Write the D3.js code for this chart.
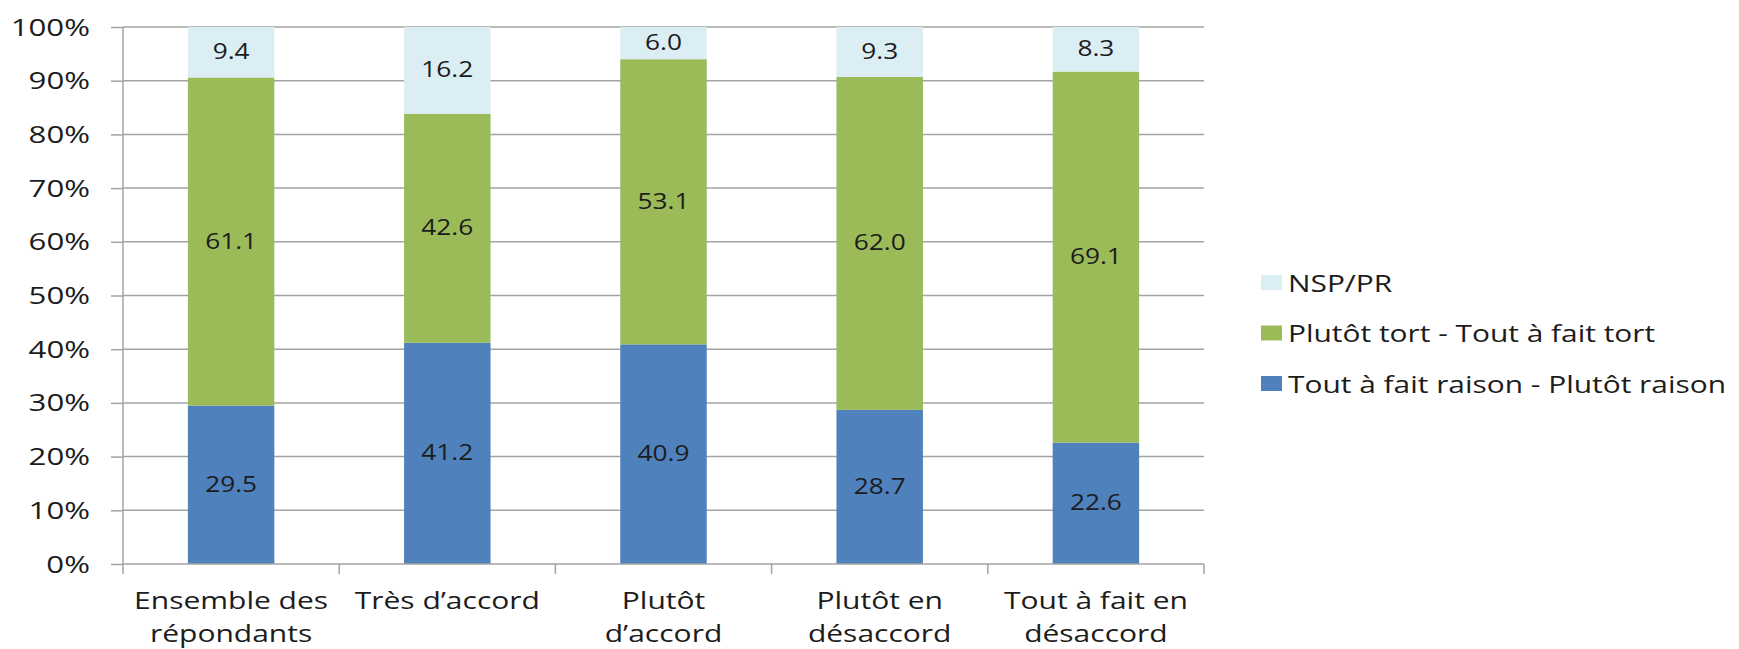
<!DOCTYPE html>
<html>
<head>
<meta charset="utf-8">
<script src="https://cdn.jsdelivr.net/npm/d3@7"></script>
<style>
    body { margin: 0; background: #fff; }
    text { font-family: "Open Sans", "Noto Sans", sans-serif; fill: #1c1c1c; }
</style>
</head>
<body>
<div id="chart"></div>
<script>
// categories, one entry per bar (lines of the axis label)
const categories = ["Ensemble des répondants", "Très d’accord", "Plutôt d’accord", "Plutôt en désaccord", "Tout à fait en désaccord"];
const categoryLines = [
    ["Ensemble des", "répondants"],
    ["Très d’accord"],
    ["Plutôt", "d’accord"],
    ["Plutôt en", "désaccord"],
    ["Tout à fait en", "désaccord"]
];

// series values (bottom to top)
const raison = [29.5, 41.2, 40.9, 28.7, 22.6];
const tort = [61.1, 42.6, 53.1, 62.0, 69.1];
const nsp = [9.4, 16.2, 6.0, 9.3, 8.3];

const seriesNames = ["Tout à fait raison - Plutôt raison", "Plutôt tort - Tout à fait tort", "NSP/PR"];
const seriesColors = ["#4f81bd", "#9bbb59", "#dbeef4"];

const yTicks = [0, 10, 20, 30, 40, 50, 60, 70, 80, 90, 100];

const chartWidth = 1739, chartHeight = 649;
const plotLeft = 123, plotRight = 1204, plotTop = 27, plotBottom = 564;

const svg = d3.select("#chart").append("svg")
    .attr("width", chartWidth)
    .attr("height", chartHeight);

const x = d3.scaleBand()
    .domain(categories)
    .range([plotLeft, plotRight])
    .paddingInner(0.6)
    .paddingOuter(0.3);

const y = d3.scaleLinear()
    .domain([0, 100])
    .range([plotBottom, plotTop]);

/*
 *  Text helper, stretched horizontally around its anchor
 *  (the glyphs in the picture are wide).
 */
function label(g, tx, ty, str, size, anchor, stretch) {
    return g.append("text")
        .attr("transform", "translate(" + tx + "," + ty + ") scale(" + stretch + ",1)")
        .attr("text-anchor", anchor)
        .attr("font-size", size)
        .text(str);
}

// gridlines
svg.append("g")
    .selectAll("line")
    .data(yTicks.slice(1))
    .join("line")
    .attr("x1", plotLeft)
    .attr("x2", plotRight)
    .attr("y1", d => y(d))
    .attr("y2", d => y(d))
    .attr("stroke", "#a3a3a3")
    .attr("stroke-width", 1.5);

// y axis
const yAxis = svg.append("g")
    .attr("transform", "translate(" + plotLeft + ",0)")
    .call(d3.axisLeft(y).tickValues(yTicks).tickSize(12).tickFormat(""));
yAxis.selectAll("path, line").attr("stroke", "#a3a3a3").attr("stroke-width", 1.5);
yAxis.select(".domain").attr("d", "M0," + plotTop + "V" + plotBottom);

yTicks.forEach(t => {
    label(svg, 90, y(t) + 8.5, t + "%", 24, "end", 1.3);
});

// stacked series
const rows = categories.map((c, i) => ({cat: c, raison: raison[i], tort: tort[i], nsp: nsp[i]}));
const stack = d3.stack().keys(["raison", "tort", "nsp"])(rows);

const layers = svg.append("g")
    .selectAll("g")
    .data(stack)
    .join("g")
    .attr("fill", (d, i) => seriesColors[i]);

layers.selectAll("rect")
    .data(d => d)
    .join("rect")
    .attr("x", d => x(d.data.cat))
    .attr("width", x.bandwidth())
    .attr("y", d => y(d[1]))
    .attr("height", d => y(d[0]) - y(d[1]));

// value labels
stack.forEach(layer => {
    layer.forEach(d => {
        let cx = x(d.data.cat) + x.bandwidth() / 2;
        let cy = (y(d[0]) + y(d[1])) / 2;
        label(svg, cx, cy + 7, (d[1] - d[0]).toFixed(1), 21, "middle", 1.25);
    });
});

// x axis
const xAxis = svg.append("g")
    .attr("transform", "translate(0," + plotBottom + ")");
xAxis.append("line")
    .attr("x1", plotLeft).attr("x2", plotRight)
    .attr("stroke", "#a3a3a3").attr("stroke-width", 1.5);
const bounds = categories.map(c => x(c) - x.step() * x.paddingOuter()).concat([plotRight]);
xAxis.selectAll("line.tick")
    .data(bounds)
    .join("line")
    .attr("class", "tick")
    .attr("x1", d => d).attr("x2", d => d)
    .attr("y1", 0).attr("y2", 10)
    .attr("stroke", "#a3a3a3").attr("stroke-width", 1.5);

categories.forEach((c, i) => {
    categoryLines[i].forEach((ln, j) => {
        label(svg, x(c) + x.bandwidth() / 2, 609 + j * 33, ln, 24, "middle", 1.25);
    });
});

// legend, top entry first
const legendOrder = [2, 1, 0];
legendOrder.forEach((s, k) => {
    let ly = 283 + k * 50.5;
    svg.append("rect")
        .attr("x", 1261)
        .attr("y", ly - 8)
        .attr("width", 21)
        .attr("height", 15)
        .attr("fill", seriesColors[s]);
    label(svg, 1288, ly + 8.5, seriesNames[s], 23, "start", 1.3);
});
</script>
</body>
</html>
